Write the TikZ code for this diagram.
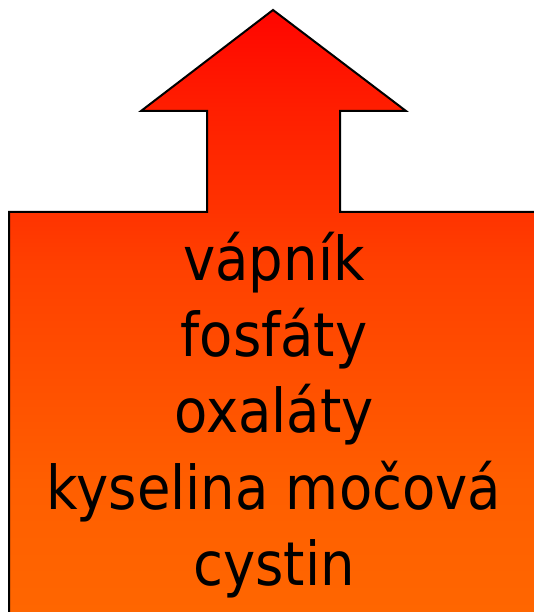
\documentclass[tikz,border=0pt]{standalone}
\usepackage{fontspec}
\newfontfamily\lblfont[FakeStretch=0.9]{DejaVu Sans}
\pgfdeclareverticalshading{arrowshade}{100bp}{
  rgb(0bp)=(1,0.40,0);
  rgb(27.2bp)=(1,0.40,0);
  rgb(37.3bp)=(1,0.37,0);
  rgb(54.8bp)=(1,0.25,0);
  rgb(59bp)=(1,0.20,0);
  rgb(67bp)=(1,0.12,0);
  rgb(75bp)=(1,0.02,0);
  rgb(100bp)=(1,0.02,0)}
\tikzset{
  shapeline/.style={draw=black, line width=2pt, line join=miter, shading=arrowshade},
  lbl/.style={anchor=base, inner sep=0pt, font=\lblfont\fontsize{60.5}{76}\selectfont, text=black}
}
\begin{document}
\begin{tikzpicture}[x=1pt,y=-1pt]
\useasboundingbox (0,0) rectangle (533,612);
\shade[shapeline] (9,640) -- (9,212) -- (207,212) -- (207,111) -- (141,111) -- (273,10)
  -- (406,111) -- (340,111) -- (340,212) -- (560,212) -- (560,640) -- cycle;
\node[lbl] (t1) at (274,280) {vápník};
\node[lbl] (t2) at (274,356) {fosfáty};
\node[lbl] (t3) at (274,432) {oxaláty};
\node[lbl] (t4) at (274,509) {kyselina močová};
\node[lbl] (t5) at (274,585) {cystin};
\end{tikzpicture}
\end{document}
